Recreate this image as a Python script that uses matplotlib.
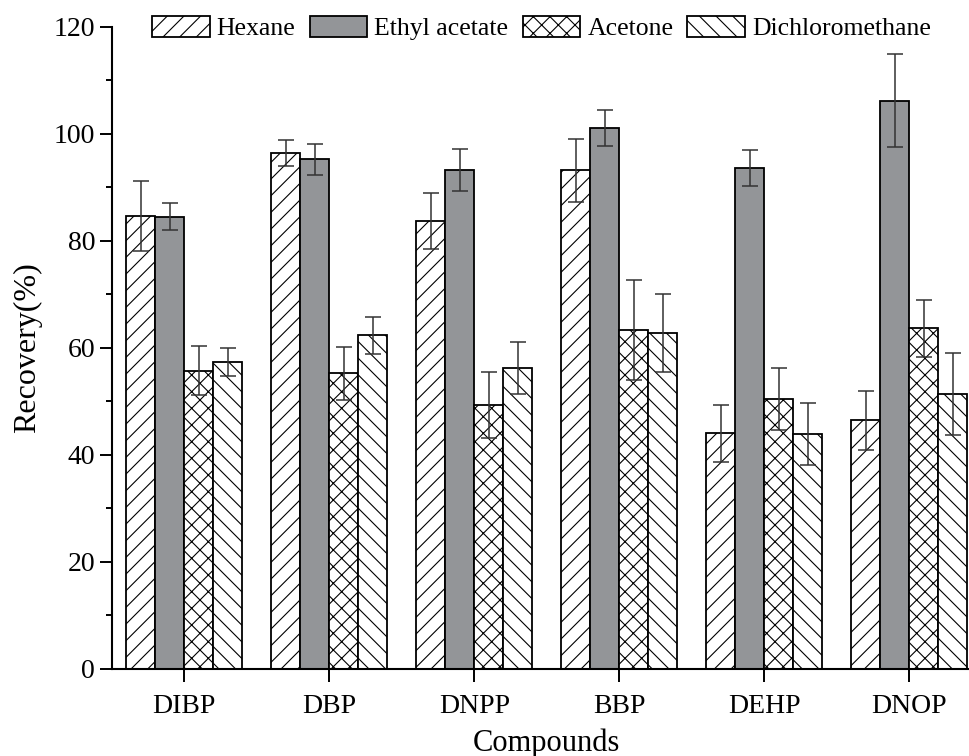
import matplotlib
matplotlib.use("Agg")
import matplotlib.pyplot as plt
import numpy as np
from matplotlib.ticker import MultipleLocator

plt.rcParams['font.family'] = ['Liberation Serif', 'DejaVu Serif']
plt.rcParams['hatch.linewidth'] = 0.8

compounds = ['DIBP', 'DBP', 'DNPP', 'BBP', 'DEHP', 'DNOP']
solvents = ['Hexane', 'Ethyl acetate', 'Acetone', 'Dichloromethane']

hexane = [84.6, 96.4, 83.7, 93.2, 44.0, 46.4]
hexane_sd = [6.5, 2.5, 5.2, 5.9, 5.35, 5.5]
ethyl_acetate = [84.5, 95.2, 93.2, 101.0, 93.6, 106.2]
ethyl_acetate_sd = [2.5, 2.9, 4.0, 3.35, 3.4, 8.75]
acetone = [55.7, 55.2, 49.3, 63.3, 50.4, 63.6]
acetone_sd = [4.6, 5.0, 6.2, 9.4, 5.8, 5.4]
dichloromethane = [57.3, 62.3, 56.2, 62.7, 43.9, 51.3]
dichloromethane_sd = [2.6, 3.4, 4.8, 7.3, 5.85, 7.7]

means = [hexane, ethyl_acetate, acetone, dichloromethane]
sds = [hexane_sd, ethyl_acetate_sd, acetone_sd, dichloromethane_sd]
fills = ['white', '#939598', 'white', 'white']
hatches = ['//', '', 'xx', '\\\\']

fig = plt.figure(figsize=(9.7, 7.56), dpi=100)
ax = fig.add_axes([0.1152, 0.1155, 0.897, 0.8492])

x = np.arange(len(compounds))
width = 0.2
for i in range(4):
    pos = x + (i - 1.5) * width
    ax.bar(pos, means[i], width, color=fills[i], hatch=hatches[i],
           edgecolor='black', linewidth=1.3, label=solvents[i], zorder=2)
    ax.errorbar(pos, means[i], yerr=sds[i], fmt='none', ecolor='#333333',
                elinewidth=1.1, capsize=5.5, capthick=1.1, zorder=3)

ax.set_xlim(-0.5, 5.5)
ax.set_ylim(0, 120)
ax.set_xticks(x)
ax.set_xticklabels(compounds)
ax.yaxis.set_major_locator(MultipleLocator(20))
ax.yaxis.set_minor_locator(MultipleLocator(10))

for side in ['top', 'right']:
    ax.spines[side].set_visible(False)
for side in ['left', 'bottom']:
    ax.spines[side].set_linewidth(1.5)

ax.tick_params(axis='both', which='major', direction='out', length=9,
               width=1.4, labelsize=20)
ax.tick_params(axis='y', which='major', pad=3)
ax.tick_params(axis='x', which='major', pad=9)
ax.tick_params(axis='y', which='minor', direction='out', length=4.5, width=1.4)

ax.set_xlabel('Compounds', fontsize=22, labelpad=7)
ax.set_ylabel('Recovery(%)', fontsize=23, labelpad=8)

fig.legend(loc='center', bbox_to_anchor=(541.5 / 970, 1 - 28 / 756),
           ncol=4, frameon=False, fontsize=18.5, handlelength=2.25,
           handleheight=0.9, handletextpad=0.27, columnspacing=0.55,
           borderpad=0, borderaxespad=0)

fig.savefig('out.png', dpi=100)
plt.close(fig)
